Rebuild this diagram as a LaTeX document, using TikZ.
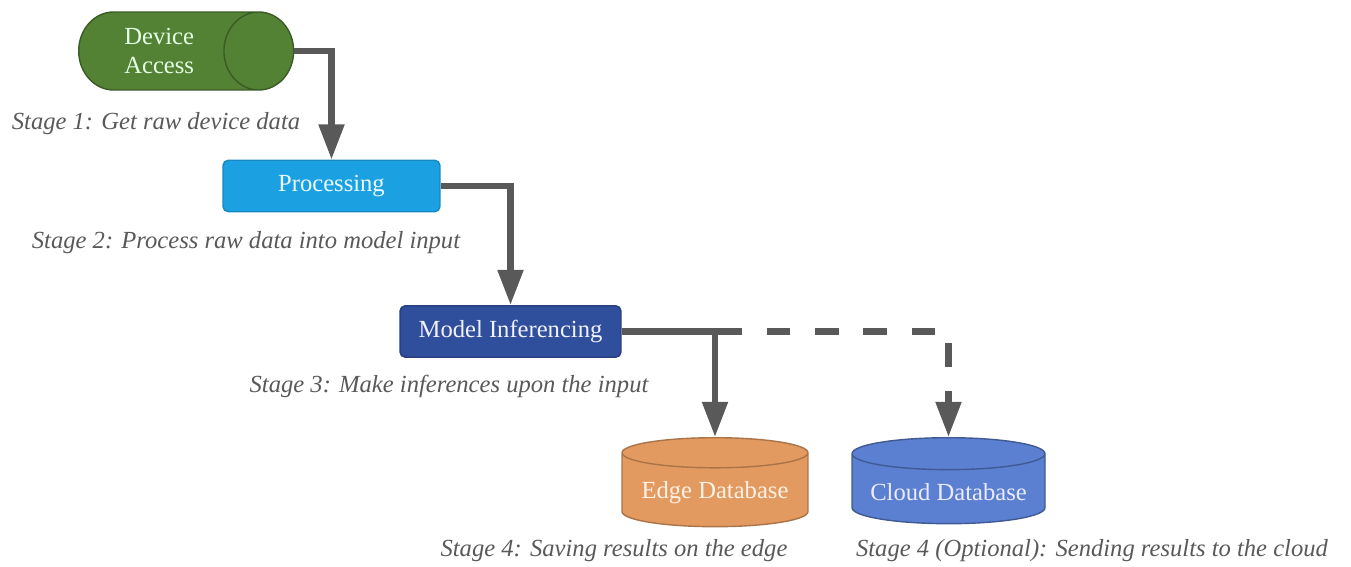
\documentclass[tikz,border=0pt]{standalone}
\usepackage{fontspec}
\setmainfont{Liberation Serif}
\usepackage{xcolor}
\usepackage{tikz}
\usetikzlibrary{shapes,arrows.meta,positioning,calc}

\definecolor{flowgray}{HTML}{595959}
\definecolor{devgreen}{HTML}{548235}
\definecolor{procblue}{HTML}{1BA1E2}
\definecolor{modelblue}{HTML}{2F4E9C}
\definecolor{edgeorange}{HTML}{E39A60}
\definecolor{cloudblue}{HTML}{5B80D2}

\begin{document}
\begin{tikzpicture}[x=0.02cm, y=-0.02cm,
    every node/.style={font=\fontsize{14}{17}\selectfont},
    stagebox/.style={draw, rectangle, rounded corners=3pt, line width=0.8pt, minimum width=#1, minimum height=1.03cm},
    dbnode/.style={draw, cylinder, shape border rotate=90, aspect=0.19, line width=0.8pt, anchor=north},
    stagelabel/.style={text=flowgray, font=\fontsize{14}{17}\selectfont\itshape},
    flow/.style={draw=flowgray, line width=3.6pt, -{Triangle[length=20pt, width=14pt]}}]

    \useasboundingbox (0,0) rectangle (1351,567);

    % Device
    \node[draw=devgreen!70!black, fill=devgreen, cylinder, aspect=1.2, line width=0.8pt, minimum width=1.56cm, minimum height=4.3cm, text=green!10, align=center, anchor=west] (device) at (78,51) {Device\\Access};
    \node[stagelabel] (stage1) at (156,124) {Stage 1: Get raw device data};

    % Processing
    \node[stagebox=4.34cm, draw=procblue!85!black, fill=procblue, text=cyan!8] (processing) at (331.5,186) {Processing};
    \node[stagelabel] (stage2) at (246,243) {Stage 2: Process raw data into model input};

    % Model
    \node[stagebox=4.42cm, draw=modelblue!80!black, fill=modelblue, text=blue!5] (model) at (510.5,331.5) {Model Inferencing};
    \node[stagelabel] (stage3) at (449,386) {Stage 3: Make inferences upon the input};

    % Databases
    \node[dbnode, draw=edgeorange!75!black, fill=edgeorange, text=orange!10, minimum width=3.72cm, minimum height=1.78cm] (edgedb) at (715,437) {Edge Database};
    \node[dbnode, draw=cloudblue!70!black, fill=cloudblue, text=blue!8, minimum width=3.86cm, minimum height=1.72cm] (clouddb) at (948.5,437) {Cloud Database};
    \node[stagelabel] (stage4) at (614,551) {Stage 4: Saving results on the edge};
    \node[stagelabel] (stage4opt) at (1092,551) {Stage 4 (Optional): Sending results to the cloud};

    % Flow
    \draw[flow] (device.east) -| (processing.north);
    \draw[flow] (processing.east) -| (model.north);
    \draw[flow, dash pattern=on 13.5pt off 14pt] (model.east) -| (clouddb.north);
    \draw[flow] (model.east) -| (edgedb.north);

\end{tikzpicture}
\end{document}
